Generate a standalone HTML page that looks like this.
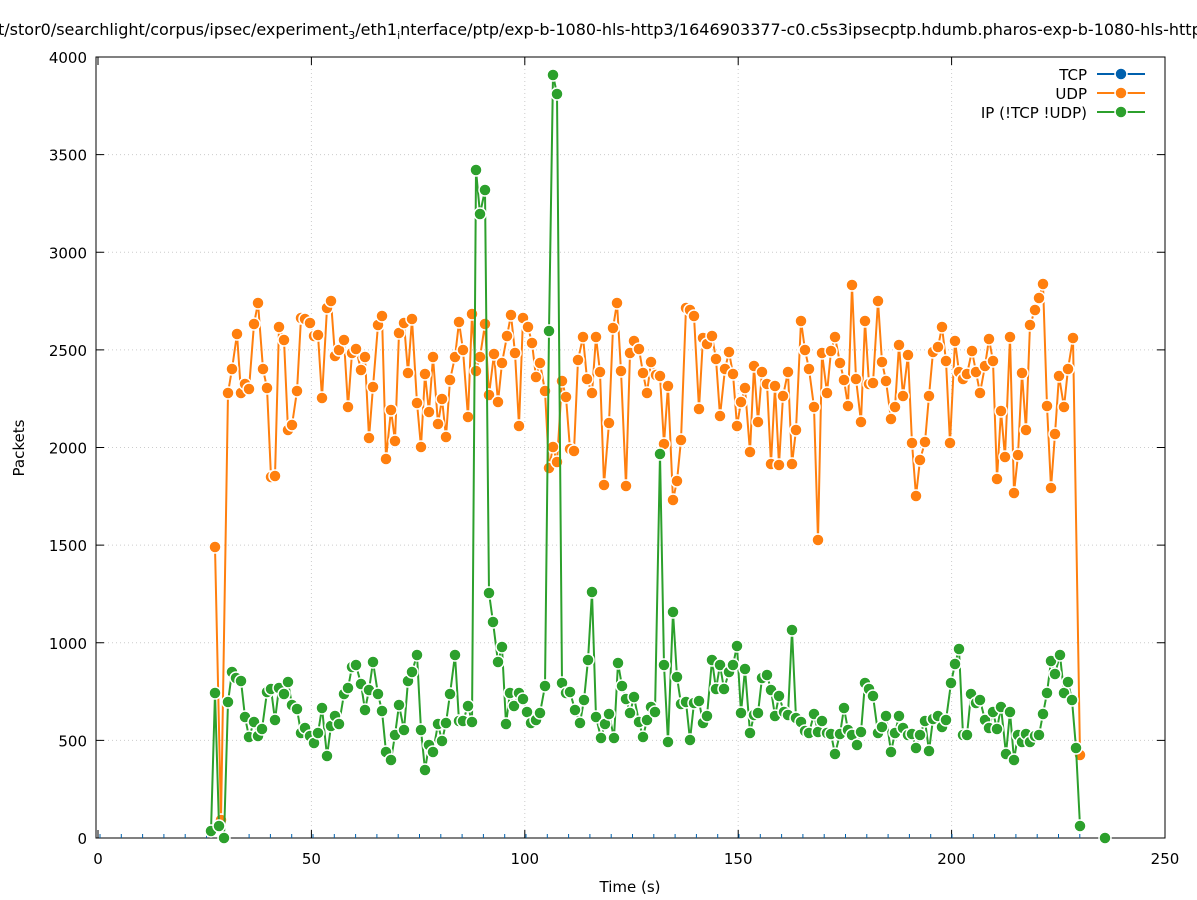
<!DOCTYPE html>
<html><head><meta charset="utf-8"><style>
html,body{margin:0;padding:0;background:#fff;}
svg{display:block;font-family:"DejaVu Sans",sans-serif;}
</style></head><body>
<svg id="s" width="1197" height="900" viewBox="0 0 1197 900" xmlns="http://www.w3.org/2000/svg">
<rect width="1197" height="900" fill="#fff"/>
<text x="-2" y="35" font-size="16" fill="#000">t/stor0/searchlight/corpus/ipsec/experiment<tspan font-size="11" dy="4">3</tspan><tspan dy="-4">/eth1</tspan><tspan font-size="11" dy="4">i</tspan><tspan dy="-4">nterface/ptp/exp-b-1080-hls-http3/1646903377-c0.c5s3ipsecptp.hdumb.pharos-exp-b-1080-hls-http</tspan></text>
<g id="grid" stroke="#ccc" stroke-dasharray="1,3" stroke-width="1"></g>
<rect x="96" y="57" width="1069" height="781" fill="none" stroke="#000" stroke-width="1"/>
<g id="ticks" stroke="#000"></g>
<g id="labels" font-size="15" fill="#000"></g>
<text x="630" y="892" font-size="15" text-anchor="middle">Time (s)</text>
<text transform="translate(24,448) rotate(-90)" font-size="15" text-anchor="middle">Packets</text>
<g id="tcp"></g>
<g id="data"></g>
<g font-size="15" text-anchor="end">
<text x="1087" y="80">TCP</text>
<text x="1087" y="99">UDP</text>
<text x="1087" y="118">IP (!TCP  !UDP)</text>
</g>
<g stroke-width="2">
<line x1="1097" y1="74" x2="1145" y2="74" stroke="#0060ad"/><circle cx="1121" cy="74" r="6" fill="#0060ad" stroke="#fff" stroke-width="1.5"/>
<line x1="1097" y1="93" x2="1145" y2="93" stroke="#ff7f0e"/><circle cx="1121" cy="93" r="6" fill="#ff7f0e" stroke="#fff" stroke-width="1.5"/>
<line x1="1097" y1="112" x2="1145" y2="112" stroke="#2ca02c"/><circle cx="1121" cy="112" r="6" fill="#2ca02c" stroke="#fff" stroke-width="1.5"/>
</g>
</svg>
<script>
var NS="http://www.w3.org/2000/svg";
function el(p,n,a,t){var e=document.createElementNS(NS,n);for(var k in a)e.setAttribute(k,a[k]);if(t!=null)e.textContent=t;document.getElementById(p).appendChild(e);return e;}
for(var i=0;i<=8;i++){var y=838-i*97.625;
 if(i>0&&i<8)el("grid","line",{x1:96,x2:1165,y1:y,y2:y});
 el("ticks","line",{x1:96,x2:104,y1:y,y2:y});el("ticks","line",{x1:1165,x2:1157,y1:y,y2:y});
 el("labels","text",{x:87,y:y+6,"text-anchor":"end"},String(i*500));}
for(var i=0;i<=5;i++){var x=98+i*213.4;
 if(i>0&&i<5)el("grid","line",{x1:x,x2:x,y1:57,y2:838});
 el("ticks","line",{x1:x,x2:x,y1:838,y2:830});el("ticks","line",{x1:x,x2:x,y1:57,y2:65});
 el("labels","text",{x:x,y:864,"text-anchor":"middle"},String(i*50));}
for(var x=100;x<1080;x+=21.3){el("tcp","line",{x1:x,x2:x,y1:834,y2:838,stroke:"#0060ad","stroke-width":1});}
var O="215,547;221,820;228,393;232,369;237,334;241,393;245,384;249,389;254,324;258,303;263,369;267,388;271,477;275,476;279,327;284,340;288,430;292,425;297,391;301,318;305,319;310,323;314,336;318,335;322,398;327,308;331,301;335,356;339,350;344,340;348,407;352,353;356,349;361,370;365,357;369,438;373,387;378,325;382,316;386,459;391,410;395,441;399,333;404,323;408,373;412,319;417,403;421,447;425,374;429,412;433,357;438,424;442,399;446,437;450,380;455,357;459,322;463,350;468,417;472,314;476,371;480,357;485,324;489,395;494,354;498,402;502,363;507,336;511,315;515,353;519,426;523,318;528,327;532,343;536,377;540,363;545,391;549,468;553,447;557,462;562,381;566,397;570,449;574,451;578,360;583,337;587,379;592,393;596,337;600,372;604,485;609,423;613,328;617,303;621,371;626,486;630,353;634,341;639,349;643,373;647,393;651,362;656,375;660,376;664,444;668,386;673,500;677,481;681,440;686,308;690,310;694,316;699,409;703,338;707,344;712,336;716,359;720,416;725,369;729,352;733,374;737,426;741,402;745,388;750,452;754,366;758,422;762,372;767,384;771,464;775,386;779,465;783,396;788,372;792,464;796,430;801,321;805,350;809,369;814,407;818,540;822,353;827,393;831,351;835,337;840,363;844,380;848,406;852,285;856,379;861,422;865,321;869,384;873,383;878,301;882,362;886,381;891,419;895,407;899,345;903,396;908,355;912,443;916,496;920,460;925,442;929,396;933,352;938,347;942,327;946,361;950,443;955,341;959,372;963,379;967,374;972,351;976,372;980,393;985,366;989,339;993,361;997,479;1001,411;1005,457;1010,337;1014,493;1018,455;1022,373;1026,430;1030,325;1035,310;1039,298;1043,284;1047,406;1051,488;1055,434;1059,376;1064,407;1068,369;1073,338;1080,755";
var G="211,831;215,693;219,826;224,838;228,702;232,672;236,678;241,681;245,717;249,737;254,722;258,736;262,729;267,692;271,689;275,720;279,688;284,694;288,682;292,705;297,709;301,733;305,728;310,736;314,743;318,733;322,708;327,756;331,726;335,716;339,724;344,694;348,688;352,667;356,665;361,684;365,710;369,690;373,662;378,694;382,711;386,752;391,760;395,735;399,705;404,730;408,681;412,672;417,655;421,730;425,770;429,745;433,752;438,724;442,741;446,723;450,694;455,655;459,721;463,721;468,706;472,722;476,170;480,214;485,190;489,593;493,622;498,662;502,647;506,724;510,693;514,706;519,693;523,699;527,712;531,723;536,720;540,713;545,686;549,331;553,75;557,94;562,683;566,693;570,692;575,710;580,723;584,700;588,660;592,592;596,717;601,738;605,724;609,714;614,738;618,663;622,686;626,699;630,713;634,697;639,722;643,737;647,720;651,707;655,712;660,454;664,665;668,742;673,612;677,677;681,704;686,702;690,740;694,703;699,701;703,723;707,716;712,660;716,689;720,665;724,689;729,672;733,665;737,646;741,713;745,669;750,733;754,715;758,713;762,678;767,675;771,690;775,716;779,696;784,712;788,715;792,630;796,718;801,722;805,731;809,733;814,714;818,732;822,721;827,733;831,734;835,754;840,734;844,708;848,730;852,735;857,745;861,732;865,683;869,689;873,696;878,733;882,727;886,716;891,752;895,733;899,716;903,728;908,735;912,734;916,748;920,735;925,721;929,751;933,719;938,716;942,727;946,720;951,683;955,664;959,649;963,735;967,735;971,694;976,703;980,700;985,720;989,728;993,712;997,729;1001,707;1006,754;1010,712;1014,760;1018,735;1022,742;1026,734;1030,742;1035,736;1039,735;1043,714;1047,693;1051,661;1055,674;1060,655;1064,693;1068,682;1072,700;1076,748;1080,826;1105,838";
function series(str,col,line){
 var pts=str.split(";").map(function(p){return p.split(",").map(Number);});
 if(line)el("data","polyline",{points:pts.map(function(p){return p.join(",");}).join(" "),fill:"none",stroke:col,"stroke-width":2});
 pts.forEach(function(p){el("data","circle",{cx:p[0],cy:p[1],r:6,fill:col,stroke:"#fff","stroke-width":1.5});});
}
series(O,"#ff7f0e",true);
var gp=G.split(";");gp.pop();
el("data","polyline",{points:gp.join(" ").replace(/;/g," "),fill:"none",stroke:"#2ca02c","stroke-width":2});
series(G,"#2ca02c",false);
</script>
</body></html>
